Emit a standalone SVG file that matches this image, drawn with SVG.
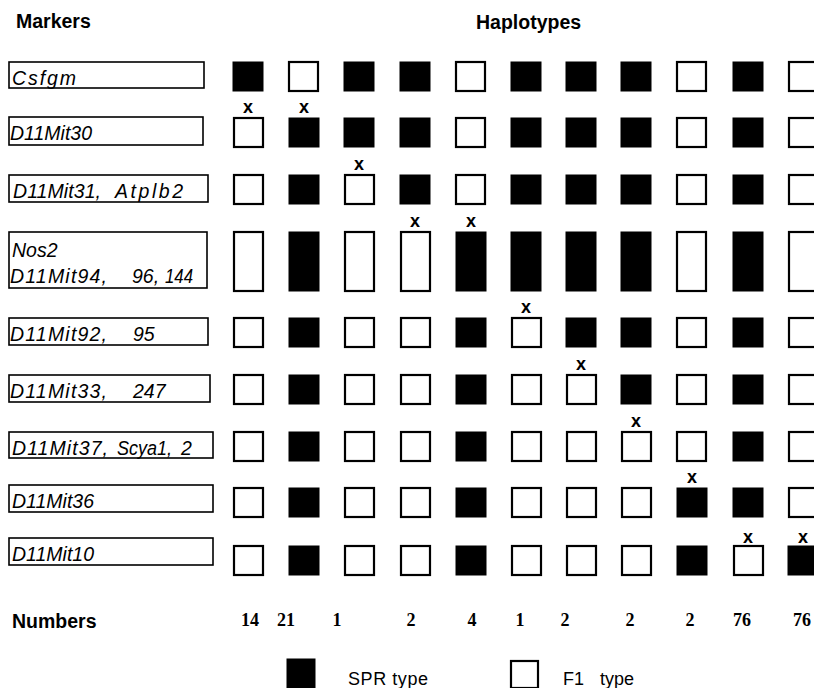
<svg xmlns="http://www.w3.org/2000/svg" width="814" height="688" viewBox="0 0 814 688">
<style>
.hd{font-family:"Liberation Sans",Arial,sans-serif;font-weight:bold;font-size:19.5px;fill:#000}
.mk{font-family:"Liberation Sans",Arial,sans-serif;font-style:italic;font-size:19.5px;fill:#000}
.box{fill:#fff;stroke:#000;stroke-width:1.6}
.b{fill:#000;stroke:#000;stroke-width:1}
.w{fill:#fff;stroke:#000;stroke-width:2.2}
.x{font-family:"Liberation Sans",Arial,sans-serif;font-weight:bold;font-size:18px;fill:#000;text-anchor:middle}
.n{font-family:"Liberation Serif","Times New Roman",serif;font-weight:bold;font-size:18px;fill:#000;text-anchor:middle}
.lg{font-family:"Liberation Sans",Arial,sans-serif;font-size:18px;fill:#000}
</style>
<rect width="814" height="688" fill="#fff"/>
<g id="headers">
<text class="hd" x="16" y="28">Markers</text>
<text class="hd" x="476" y="29">Haplotypes</text>
<text class="hd" x="12" y="628">Numbers</text>
</g>
<g id="markers">
<g id="m1"><rect class="box" x="9" y="62" width="195" height="26"/><text class="mk" x="12" y="85" textLength="64" lengthAdjust="spacing">Csfgm</text></g>
<g id="m2"><rect class="box" x="9" y="117" width="194" height="28"/><text class="mk" x="10" y="140">D11Mit30</text></g>
<g id="m3"><rect class="box" x="9" y="175" width="199" height="27"/><text class="mk" y="198"><tspan x="13" textLength="88" lengthAdjust="spacing">D11Mit31,</tspan><tspan x="115" textLength="68" lengthAdjust="spacing">Atplb2</tspan></text></g>
<g id="m4"><rect class="box" x="9" y="232" width="198" height="56"/><text class="mk" x="12" y="257">Nos2</text><text class="mk" y="283"><tspan x="10" textLength="97" lengthAdjust="spacing">D11Mit94,</tspan><tspan x="132">96,</tspan><tspan x="165" textLength="28" lengthAdjust="spacingAndGlyphs">144</tspan></text></g>
<g id="m5"><rect class="box" x="9" y="318" width="199" height="27"/><text class="mk" y="341"><tspan x="10" textLength="97" lengthAdjust="spacing">D11Mit92,</tspan><tspan x="133">95</tspan></text></g>
<g id="m6"><rect class="box" x="9" y="375" width="201" height="27"/><text class="mk" y="398"><tspan x="10" textLength="97" lengthAdjust="spacing">D11Mit33,</tspan><tspan x="133">247</tspan></text></g>
<g id="m7"><rect class="box" x="9" y="432" width="204" height="26"/><text class="mk" y="455"><tspan x="12" textLength="96" lengthAdjust="spacing">D11Mit37,</tspan><tspan x="117" textLength="55" lengthAdjust="spacingAndGlyphs">Scya1,</tspan><tspan x="181">2</tspan></text></g>
<g id="m8"><rect class="box" x="9" y="485" width="204" height="27"/><text class="mk" x="12" y="508">D11Mit36</text></g>
<g id="m9"><rect class="box" x="9" y="538" width="204" height="27"/><text class="mk" x="12" y="561">D11Mit10</text></g>
</g>
<g id="row1"><rect class="b" x="233" y="62" width="30" height="29"/><rect class="w" x="289" y="62" width="29" height="29"/><rect class="b" x="344" y="62" width="30" height="29"/><rect class="b" x="400" y="62" width="30" height="29"/><rect class="w" x="456" y="62" width="29" height="29"/><rect class="b" x="511" y="62" width="30" height="29"/><rect class="b" x="566" y="62" width="30" height="29"/><rect class="b" x="621" y="62" width="30" height="29"/><rect class="w" x="677" y="62" width="29" height="29"/><rect class="b" x="733" y="62" width="30" height="29"/><rect class="w" x="789" y="62" width="29" height="29"/></g>
<g id="row2"><text class="x" x="248" y="113">x</text><text class="x" x="304" y="113">x</text><rect class="w" x="234" y="118" width="29" height="29"/><rect class="b" x="289" y="118" width="30" height="29"/><rect class="b" x="344" y="118" width="30" height="29"/><rect class="b" x="400" y="118" width="30" height="29"/><rect class="w" x="456" y="118" width="29" height="29"/><rect class="b" x="511" y="118" width="30" height="29"/><rect class="b" x="566" y="118" width="30" height="29"/><rect class="b" x="621" y="118" width="30" height="29"/><rect class="w" x="677" y="118" width="29" height="29"/><rect class="b" x="733" y="118" width="30" height="29"/><rect class="w" x="789" y="118" width="29" height="29"/></g>
<g id="row3"><text class="x" x="359" y="170">x</text><rect class="w" x="234" y="175" width="29" height="29"/><rect class="b" x="289" y="175" width="30" height="29"/><rect class="w" x="345" y="175" width="29" height="29"/><rect class="b" x="400" y="175" width="30" height="29"/><rect class="w" x="456" y="175" width="29" height="29"/><rect class="b" x="511" y="175" width="30" height="29"/><rect class="b" x="566" y="175" width="30" height="29"/><rect class="b" x="621" y="175" width="30" height="29"/><rect class="w" x="677" y="175" width="29" height="29"/><rect class="b" x="733" y="175" width="30" height="29"/><rect class="w" x="789" y="175" width="29" height="29"/></g>
<g id="row4"><text class="x" x="415" y="227">x</text><text class="x" x="471" y="227">x</text><rect class="w" x="234" y="232" width="29" height="59"/><rect class="b" x="289" y="232" width="30" height="59"/><rect class="w" x="345" y="232" width="29" height="59"/><rect class="w" x="401" y="232" width="29" height="59"/><rect class="b" x="456" y="232" width="30" height="59"/><rect class="b" x="511" y="232" width="30" height="59"/><rect class="b" x="566" y="232" width="30" height="59"/><rect class="b" x="621" y="232" width="30" height="59"/><rect class="w" x="677" y="232" width="29" height="59"/><rect class="b" x="733" y="232" width="30" height="59"/><rect class="w" x="789" y="232" width="29" height="59"/></g>
<g id="row5"><text class="x" x="526" y="313">x</text><rect class="w" x="234" y="318" width="29" height="29"/><rect class="b" x="289" y="318" width="30" height="29"/><rect class="w" x="345" y="318" width="29" height="29"/><rect class="w" x="401" y="318" width="29" height="29"/><rect class="b" x="456" y="318" width="30" height="29"/><rect class="w" x="512" y="318" width="29" height="29"/><rect class="b" x="566" y="318" width="30" height="29"/><rect class="b" x="621" y="318" width="30" height="29"/><rect class="w" x="677" y="318" width="29" height="29"/><rect class="b" x="733" y="318" width="30" height="29"/><rect class="w" x="789" y="318" width="29" height="29"/></g>
<g id="row6"><text class="x" x="581" y="370">x</text><rect class="w" x="234" y="375" width="29" height="29"/><rect class="b" x="289" y="375" width="30" height="29"/><rect class="w" x="345" y="375" width="29" height="29"/><rect class="w" x="401" y="375" width="29" height="29"/><rect class="b" x="456" y="375" width="30" height="29"/><rect class="w" x="512" y="375" width="29" height="29"/><rect class="w" x="567" y="375" width="29" height="29"/><rect class="b" x="621" y="375" width="30" height="29"/><rect class="w" x="677" y="375" width="29" height="29"/><rect class="b" x="733" y="375" width="30" height="29"/><rect class="w" x="789" y="375" width="29" height="29"/></g>
<g id="row7"><text class="x" x="636" y="427">x</text><rect class="w" x="234" y="432" width="29" height="29"/><rect class="b" x="289" y="432" width="30" height="29"/><rect class="w" x="345" y="432" width="29" height="29"/><rect class="w" x="401" y="432" width="29" height="29"/><rect class="b" x="456" y="432" width="30" height="29"/><rect class="w" x="512" y="432" width="29" height="29"/><rect class="w" x="567" y="432" width="29" height="29"/><rect class="w" x="622" y="432" width="29" height="29"/><rect class="w" x="677" y="432" width="29" height="29"/><rect class="b" x="733" y="432" width="30" height="29"/><rect class="w" x="789" y="432" width="29" height="29"/></g>
<g id="row8"><text class="x" x="692" y="483">x</text><rect class="w" x="234" y="488" width="29" height="29"/><rect class="b" x="289" y="488" width="30" height="29"/><rect class="w" x="345" y="488" width="29" height="29"/><rect class="w" x="401" y="488" width="29" height="29"/><rect class="b" x="456" y="488" width="30" height="29"/><rect class="w" x="512" y="488" width="29" height="29"/><rect class="w" x="567" y="488" width="29" height="29"/><rect class="w" x="622" y="488" width="29" height="29"/><rect class="b" x="677" y="488" width="30" height="29"/><rect class="b" x="733" y="488" width="30" height="29"/><rect class="w" x="789" y="488" width="29" height="29"/></g>
<g id="row9"><text class="x" x="748" y="543">x</text><text class="x" x="803" y="543">x</text><rect class="w" x="234" y="546" width="29" height="29"/><rect class="b" x="289" y="546" width="30" height="29"/><rect class="w" x="345" y="546" width="29" height="29"/><rect class="w" x="401" y="546" width="29" height="29"/><rect class="b" x="456" y="546" width="30" height="29"/><rect class="w" x="512" y="546" width="29" height="29"/><rect class="w" x="567" y="546" width="29" height="29"/><rect class="w" x="622" y="546" width="29" height="29"/><rect class="b" x="677" y="546" width="30" height="29"/><rect class="w" x="734" y="546" width="29" height="29"/><rect class="b" x="788" y="546" width="30" height="29"/></g>
<g id="numbers">
<text class="n" x="250" y="626">14</text><text class="n" x="286" y="626">21</text><text class="n" x="337" y="626">1</text><text class="n" x="411" y="626">2</text><text class="n" x="472" y="626">4</text><text class="n" x="520" y="626">1</text><text class="n" x="565" y="626">2</text><text class="n" x="630" y="626">2</text><text class="n" x="690" y="626">2</text><text class="n" x="742" y="626">76</text><text class="n" x="802" y="626">76</text>
</g>
<g id="legend">
<rect class="b" x="287" y="659" width="28" height="30"/>
<text class="lg" x="348" y="685" textLength="80" lengthAdjust="spacing">SPR type</text>
<rect class="w" x="511" y="661" width="27" height="27"/>
<text class="lg" y="685"><tspan x="563">F1</tspan><tspan x="600">type</tspan></text>
</g>
</svg>
